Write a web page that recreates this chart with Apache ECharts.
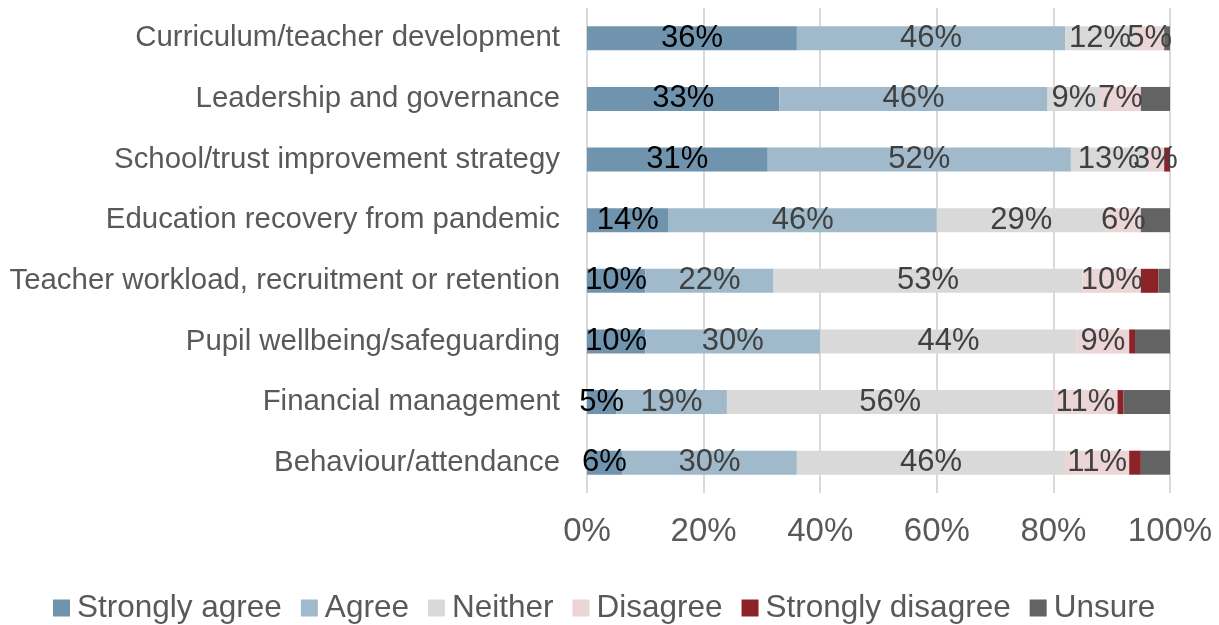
<!DOCTYPE html>
<html>
<head>
<meta charset="utf-8">
<script src="https://cdn.jsdelivr.net/npm/echarts@6/dist/echarts.min.js"></script>
<style>
  html, body { margin: 0; padding: 0; background: #fff; }
  #chart { width: 1219px; height: 625px; }
</style>
</head>
<body>
<div id="chart"></div>
<script>
// Survey statements (top to bottom)
const categories = [
  'Curriculum/teacher development',
  'Leadership and governance',
  'School/trust improvement strategy',
  'Education recovery from pandemic',
  'Teacher workload, recruitment or retention',
  'Pupil wellbeing/safeguarding',
  'Financial management',
  'Behaviour/attendance'
];

// Response shares, percent, in the same order as categories
const stronglyAgree    = [36, 33, 31, 14, 10, 10, 5, 6];
const agree            = [46, 46, 52, 46, 22, 30, 19, 30];
const neither          = [12, 9, 13, 29, 53, 44, 56, 46];
const disagree         = [5, 7, 3, 6, 10, 9, 11, 11];
const stronglyDisagree = [0, 0, 1, 0, 3, 1, 1, 2];
const unsure           = [1, 5, 0, 5, 2, 6, 8, 5];

const xTicks = [0, 20, 40, 60, 80, 100];

const FONT = '"Liberation Sans", Arial, sans-serif';

function makeSeries(name, data, color, labelColor, showLabel) {
  return {
    name: name,
    type: 'bar',
    stack: 'total',
    data: data,
    barWidth: 24,
    itemStyle: { color: color },
    label: {
      show: showLabel,
      position: 'inside',
      color: labelColor,
      fontFamily: FONT,
      fontSize: 31,
      formatter: p => (p.value > 0 ? p.value + '%' : '')
    },
    labelLayout: { hideOverlap: false },
    emphasis: { disabled: true }
  };
}

const chart = echarts.init(document.getElementById('chart'), null, { renderer: 'canvas' });

chart.setOption({
  animation: false,
  backgroundColor: '#ffffff',
  grid: { left: 587, right: 49, top: 8, bottom: 132, containLabel: false },
  legend: {
    top: 587,
    left: 48,
    itemWidth: 17,
    itemHeight: 17,
    itemGap: 19,
    icon: 'rect',
    textStyle: { fontFamily: FONT, fontSize: 31.5, color: '#595959', padding: [0, 0, 0, 2] },
    data: ['Strongly agree', 'Agree', 'Neither', 'Disagree', 'Strongly disagree', 'Unsure']
  },
  xAxis: {
    type: 'value',
    min: 0,
    max: 100,
    interval: 20,
    axisLine: { show: false },
    axisTick: { show: false },
    splitLine: { show: true, lineStyle: { color: '#d9d9d9', width: 2 } },
    axisLabel: {
      margin: 22,
      fontFamily: FONT,
      fontSize: 33,
      color: '#595959',
      formatter: v => (xTicks.includes(v) ? v + '%' : '')
    }
  },
  yAxis: {
    type: 'category',
    data: categories,
    inverse: true,
    axisLine: { show: false },
    axisTick: { show: false },
    axisLabel: {
      margin: 27,
      fontFamily: FONT,
      fontSize: 29.4,
      color: '#595959'
    }
  },
  series: [
    makeSeries('Strongly agree', stronglyAgree, '#7094ad', '#000000', true),
    makeSeries('Agree', agree, '#a0bacb', '#404040', true),
    makeSeries('Neither', neither, '#d9d9d9', '#404040', true),
    makeSeries('Disagree', disagree, '#ebd5d7', '#404040', true),
    makeSeries('Strongly disagree', stronglyDisagree, '#8b2329', '#404040', false),
    makeSeries('Unsure', unsure, '#636363', '#404040', false)
  ]
});
</script>
</body>
</html>
